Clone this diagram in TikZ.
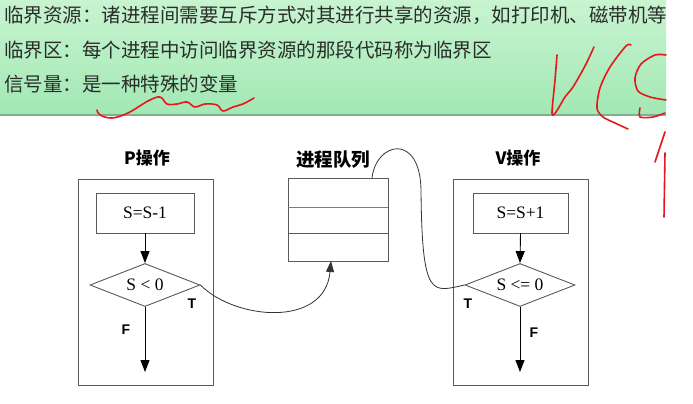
\documentclass[tikz,border=0pt]{standalone}
\usepackage{fontspec}
\setmainfont{Liberation Serif}
\newfontfamily\cjk{Noto Sans CJK SC}
\newfontfamily\sansf{Liberation Sans}
\usetikzlibrary{shapes.geometric,arrows.meta}
\definecolor{bannertop}{HTML}{C8F4D0}
\definecolor{bannerbot}{HTML}{A2E8B4}
\definecolor{bannerline}{HTML}{7FB08C}
\definecolor{boxgray}{HTML}{5A5A5A}
\definecolor{txtdark}{HTML}{2A2E2A}
\definecolor{penred}{HTML}{E3191E}
\tikzset{
  bannertxt/.style={anchor=west, inner sep=0pt, text=txtdark, font=\cjk\fontsize{19.5}{22}\selectfont},
  framebox/.style={draw=boxgray, line width=0.9pt, minimum width=135pt, minimum height=206pt, inner sep=0pt},
  opbox/.style={draw=boxgray, line width=0.9pt, minimum height=40pt, inner sep=0pt, font=\fontsize{17.5}{19}\selectfont},
  decide/.style={diamond, aspect=2.5, draw=boxgray, line width=0.9pt, minimum width=110pt, minimum height=43pt, inner sep=0pt, font=\fontsize{17.5}{19}\selectfont},
  optitle/.style={inner sep=0pt, font=\cjk\bfseries\fontsize{17}{19}\selectfont},
  tflabel/.style={inner sep=0pt, font=\sansf\bfseries\fontsize{14}{16}\selectfont},
  flow/.style={line width=0.9pt, -{Triangle[length=12pt,width=9pt]}},
  link/.style={line width=0.8pt, draw=black!80},
  redpen/.style={draw=penred, line width=1.6pt, line cap=round, line join=round}
}
\begin{document}
\begin{tikzpicture}[x=1pt,y=-1pt]
\useasboundingbox (0,0) rectangle (693,404);
\fill[white] (0,0) rectangle (693,404);
% banner
\shade[top color=bannertop, bottom color=bannerbot] (0,0) rectangle (666,115);
\draw[bannerline, line width=1.2pt] (0,115) -- (666,115);
\node[bannertxt] (l1) at (4,15) {临界资源：诸进程间需要互斥方式对其进行共享的资源，如打印机、磁带机等};
\node[bannertxt] (l2) at (4,50) {临界区：每个进程中访问临界资源的那段代码称为临界区};
\node[bannertxt] (l3) at (4,84) {信号量：是一种特殊的变量};

% P operation
\node[optitle] (ptitle) at (147,158) {P操作};
\node[framebox] (pframe) at (145.5,282) {};
\node[opbox, minimum width=98pt] (pdec) at (145,213) {S=S-1};
\node[decide] (ptest) at (145,285) {S < 0};
\coordinate (pend) at (145,372);
\draw[flow] (pdec.south) -- (ptest.north);
\draw[flow] (ptest.south) -- (pend);
\node[tflabel] (pT) at (192,304) {T};
\node[tflabel] (pF) at (126,330) {F};

% queue
\node[optitle, font=\cjk\bfseries\fontsize{18.5}{20}\selectfont] (qtitle) at (333,160) {进程队列};
\node[draw=boxgray, line width=0.9pt, minimum width=100pt, minimum height=83pt, inner sep=0pt] (queue) at (338,219.5) {};
\draw[boxgray!80, line width=0.7pt] (queue.west |- 0,207) -- (queue.east |- 0,207);
\draw[boxgray, line width=0.9pt] (queue.west |- 0,233) -- (queue.east |- 0,233);
\coordinate (qout) at (372,178);

% V operation
\node[optitle] (vtitle) at (518,158) {V操作};
\node[framebox] (vframe) at (520.5,282) {};
\node[opbox, minimum width=95pt] (vinc) at (520.5,213) {S=S+1};
\node[decide] (vtest) at (520,285) {S <= 0};
\coordinate (vend) at (520,372);
\draw[flow] (vinc.south) -- (vtest.north);
\draw[flow] (vtest.south) -- (vend);
\node[tflabel] (vT) at (468,304) {T};
\node[tflabel] (vF) at (534,333) {F};

% connectors
\coordinate (qin) at (331,261);
\draw[link, -{Triangle[length=11pt,width=8pt]}] (ptest.east) .. controls (235,320) and (325,328) .. (qin);
\draw[link] (qout) .. controls (376,142) and (420,132) .. (421,190) .. controls (422,300) and (432,292) .. (vtest.west);

% red handwriting
\draw[redpen] plot[smooth, tension=0.6] coordinates {(97,110) (100,115) (112,118) (128,113) (148,101) (160,97) (167,104) (177,104) (187,102) (195,107) (205,104) (217,105) (223,111) (233,107) (243,104) (254,98)};
\draw[redpen] plot[smooth, tension=0.5] coordinates {(557,55) (555,80) (552,113) (556,112) (565,97) (573,87) (585,66) (594,47)};
\draw[redpen] plot[smooth, tension=0.5] coordinates {(631,45) (626,46) (610,67) (600,88) (597,108) (603,117) (615,123) (628,129)};
\draw[redpen] plot[smooth, tension=0.5] coordinates {(666,55) (655,55) (641,64) (635,78) (638,91) (650,97) (666,100)};
\draw[redpen] plot[smooth, tension=0.5] coordinates {(640,108) (640,117) (653,117) (665,113)};
\draw[redpen] (665,132) -- (655,162);
\draw[redpen] (665,153) -- (664,217);
\end{tikzpicture}
\end{document}
